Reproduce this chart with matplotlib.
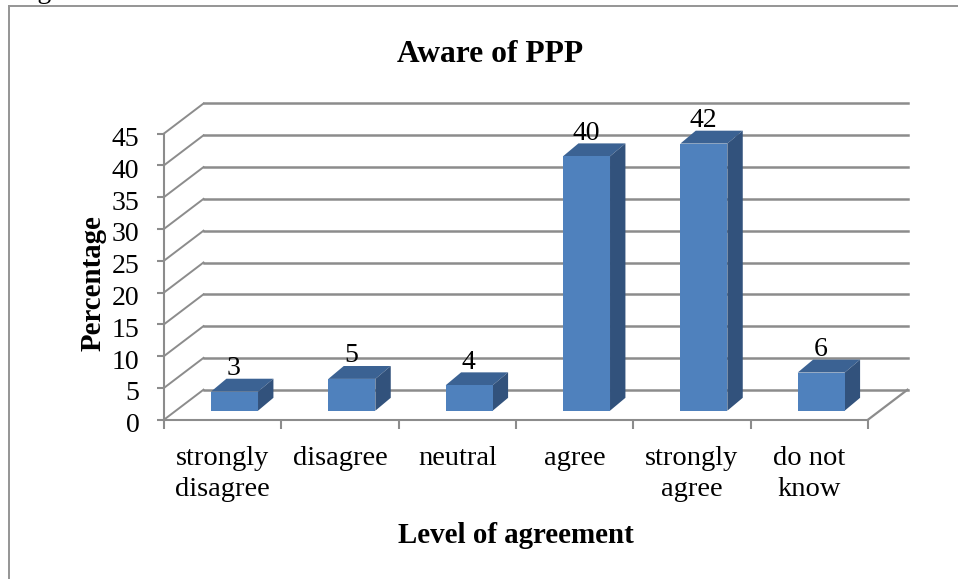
import matplotlib
matplotlib.use("Agg")
import matplotlib.pyplot as plt
from matplotlib.patches import Polygon
from matplotlib.transforms import Affine2D

categories = ["strongly\ndisagree", "disagree", "neutral", "agree", "strongly\nagree", "do not\nknow"]
values = [3, 5, 4, 40, 42, 6]
yticks = [0, 5, 10, 15, 20, 25, 30, 35, 40, 45]

W, H = 958, 579
plt.rcParams['font.family'] = ['Liberation Serif', 'DejaVu Serif']

fig = plt.figure(figsize=(W / 100, H / 100), dpi=100)
# frame round the whole chart
fig.add_artist(plt.Line2D([9 / W, 9 / W], [0, 1 - 6 / H], color="#959595", lw=1.4))
fig.add_artist(plt.Line2D([9 / W, 1], [1 - 6 / H, 1 - 6 / H], color="#959595", lw=1.4))

ax = fig.add_axes([164 / W, 1 - 419.7 / H, 704 / W, 286.2 / H])
ax.set_xlim(0, 6)
ax.set_ylim(0, 45)
ax.patch.set_visible(False)
for s in ["top", "right"]:
    ax.spines[s].set_visible(False)
for s in ["left", "bottom"]:
    ax.spines[s].set_color("#8c8c8c")
    ax.spines[s].set_linewidth(1.5)

# depth of the fake 3d box, in data units
ddx = 39.5 / (704 / 6)
ddy = 30 / (286.2 / 45)
grid = "#8c8c8c"

for v in yticks:
    ax.plot([ddx, 6 + ddx], [v + ddy, v + ddy], color=grid, lw=1.8, clip_on=False, zorder=1)
    ax.plot([0, ddx], [v, v + ddy], color=grid, lw=1.4, clip_on=False, zorder=1)
ax.plot([6, 6 + ddx], [0, ddy], color=grid, lw=1.6, clip_on=False, zorder=1)

# bars sit part way into the floor
bw = 47 / (704 / 6)
off = 0.3
for i, v in enumerate(values):
    x0 = i + 0.5 - bw / 2 + off * ddx
    x1 = x0 + bw
    y0 = off * ddy
    y1 = y0 + v
    ex = 0.39 * ddx
    ey = 0.43 * ddy
    ax.add_patch(Polygon([(x0, y1), (x1, y1), (x1 + ex, y1 + ey), (x0 + ex, y1 + ey)],
                         fc="#3b6293", ec="none", clip_on=False, zorder=3))
    ax.add_patch(Polygon([(x1, y0), (x1 + ex, y0 + ey), (x1 + ex, y1 + ey), (x1, y1)],
                         fc="#32527c", ec="none", clip_on=False, zorder=3))
    ax.add_patch(Polygon([(x0, y0), (x1, y0), (x1, y1), (x0, y1)],
                         fc="#4f81bd", ec="none", clip_on=False, zorder=4))
    ax.text(x0 + bw / 2 - 0.005, y1 + ey + 0.6, str(v), ha="center", va="baseline",
            fontsize=20, color="black", zorder=5, clip_on=False)

ax.set_yticks(yticks)
ax.set_xticks(range(7))
ax.set_xticklabels([])
ax.tick_params(axis="y", length=5, width=1.5, color="#8c8c8c", labelsize=20, pad=12.7)
ax.tick_params(axis="x", length=6.5, width=1.5, color="#8c8c8c")
# labels sit a little under their ticks in the original
for lab in ax.get_yticklabels():
    lab.set_transform(lab.get_transform() + Affine2D().translate(0, -3))
for i, c in enumerate(categories):
    ax.text(i + 0.5, -4.2, c, ha="center", va="top", fontsize=20.5, linespacing=1.3)

ax.set_ylabel("Percentage", fontsize=20.8, fontweight="bold")
ax.yaxis.set_label_coords(-0.081, 0.478)
ax.text(3, -18.2, "Level of agreement", ha="center", va="center", fontsize=20.8, fontweight="bold")
fig.text(490 / W, 1 - 55 / H, "Aware of PPP", ha="center", va="center", fontsize=22.7, fontweight="bold")
# bit of the caption cut off above the chart
fig.text(14 / W, 1 + 2 / H, "Figure", ha="left", va="baseline", fontsize=20, color="black")

fig.savefig("out.png", dpi=100)
